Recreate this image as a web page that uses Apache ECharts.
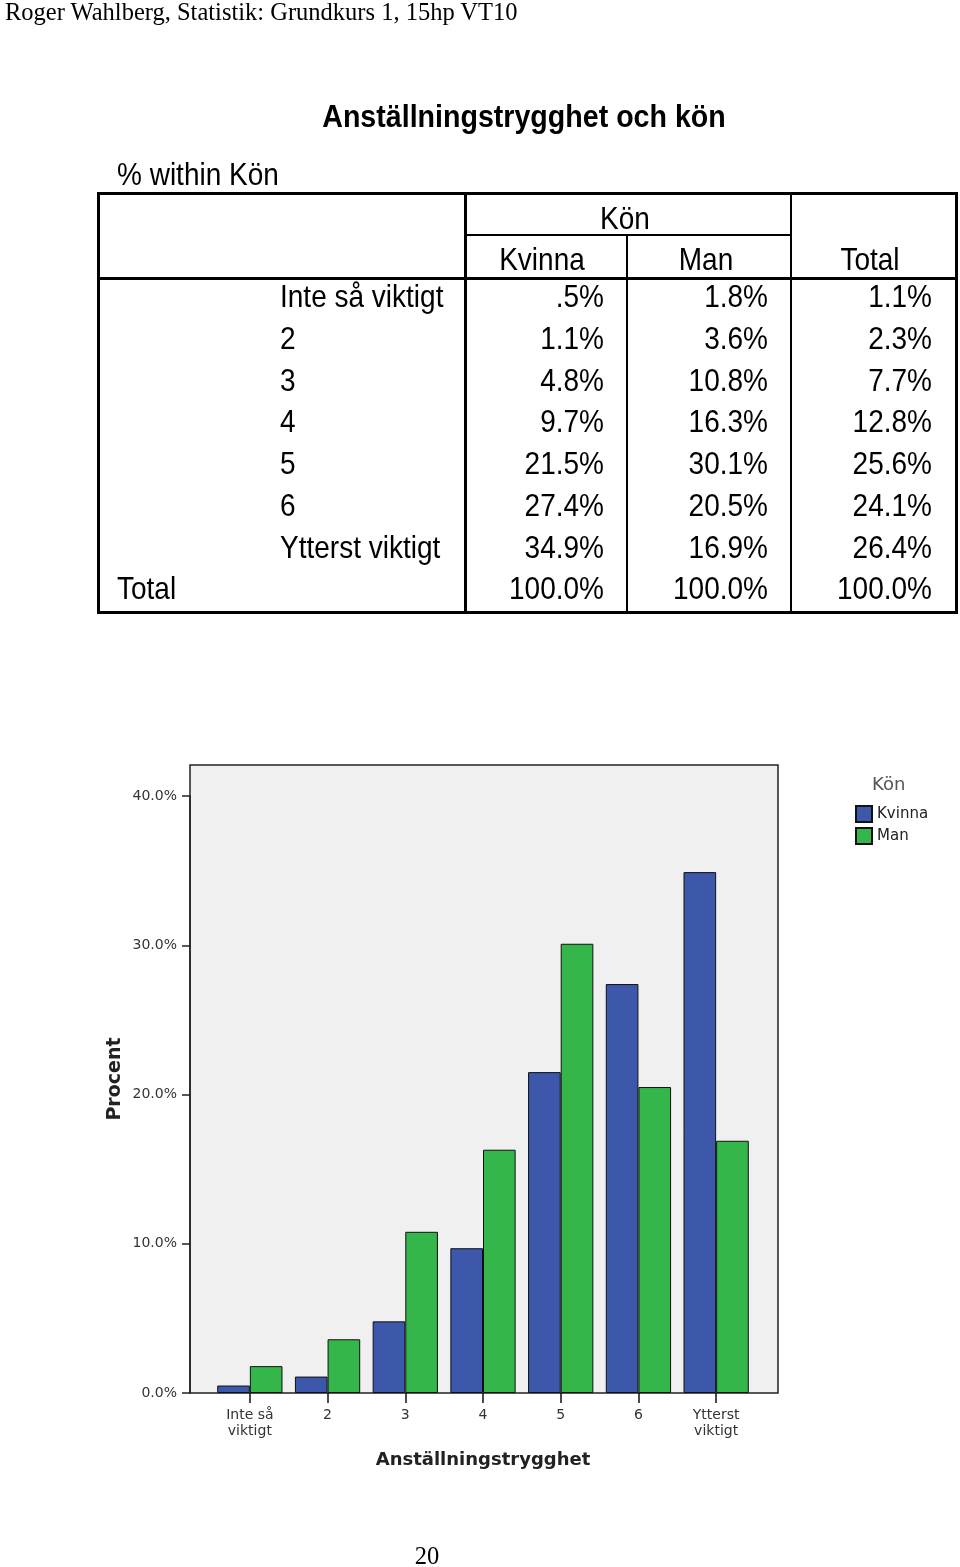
<!DOCTYPE html>
<html>
<head>
<meta charset="utf-8">
<script src="https://cdn.jsdelivr.net/npm/echarts@6/dist/echarts.min.js"></script>
<style>
  html, body { margin: 0; padding: 0; background: #fff; }
  #page { position: relative; width: 960px; height: 1567px; overflow: hidden; }
  #chart { position: absolute; left: 0; top: 0; width: 960px; height: 1567px; }
  .t { position: absolute; white-space: nowrap; color: #000; }
  .sans { font-family: "Liberation Sans", Arial, sans-serif; font-size: 28px; }
  .serif { font-family: "Liberation Serif", "Times New Roman", serif; font-size: 24.5px; }
  .ln { position: absolute; background: #000; }
</style>
</head>
<body>
<div id="page">
  <div id="chart"></div>
</div>
<script>
// ---- data ----
const rowLabels = ['Inte så viktigt', '2', '3', '4', '5', '6', 'Ytterst viktigt'];
const axisCategories = ['Inte så\nviktigt', '2', '3', '4', '5', '6', 'Ytterst\nviktigt'];
const seriesNames = ['Kvinna', 'Man'];
const kvinna = [0.5, 1.1, 4.8, 9.7, 21.5, 27.4, 34.9];
const man = [1.8, 3.6, 10.8, 16.3, 30.1, 20.5, 16.9];
const total = [1.1, 2.3, 7.7, 12.8, 25.6, 24.1, 26.4];
const columnTotals = [100.0, 100.0, 100.0];
const yTickStep = 10;
const yTickMax = 40;

// ---- html text & table ----
const page = document.getElementById('page');
function txt(x, y, s, cls, align, extra, sy) {
  const d = document.createElement('div');
  d.className = 't ' + cls;
  d.textContent = s;
  const h = 40;
  d.style.left = x + 'px';
  d.style.top = (y - h / 2) + 'px';
  d.style.lineHeight = h + 'px';
  const tx = align === 'right' ? '-100%' : (align === 'center' ? '-50%' : '0');
  d.style.transform = 'translateX(' + tx + ') scaleY(' + (sy || 1.12) + ')';
  if (extra) Object.assign(d.style, extra);
  page.appendChild(d);
  return d;
}
function line(x, y, w, h) {
  const d = document.createElement('div');
  d.className = 'ln';
  d.style.left = x + 'px'; d.style.top = y + 'px';
  d.style.width = w + 'px'; d.style.height = h + 'px';
  page.appendChild(d);
}
function fmt(v) { return v.toFixed(1).replace(/^0\./, '.') + '%'; }

txt(5, 12, 'Roger Wahlberg, Statistik: Grundkurs 1, 15hp VT10', 'serif', 'left', null, 1);
txt(427, 1556, '20', 'serif', 'center', null, 1);
txt(524, 116, 'Anställningstrygghet och kön', 'sans', 'center', { fontWeight: 'bold', fontSize: '28.6px' });
txt(117, 175, '% within Kön', 'sans', 'left');

// table lines
line(97, 192, 861, 3);   // top
line(97, 611, 861, 3);   // bottom
line(97, 192, 3, 422);   // left
line(955, 192, 3, 422);  // right
line(97, 277, 861, 3);   // header bottom
line(464, 192, 3, 422);  // label | data
line(464, 234, 327, 2);  // under Kön
line(626, 234, 2, 380);  // Kvinna | Man
line(790, 192, 2, 422);  // Man | Total

txt(625, 219, 'Kön', 'sans', 'center');
txt(542, 260, 'Kvinna', 'sans', 'center');
txt(706, 260, 'Man', 'sans', 'center');
txt(870, 260, 'Total', 'sans', 'center');

const rowY = [297, 339, 381, 422, 464, 506, 548];
rowLabels.forEach((lab, i) => {
  txt(280, rowY[i], lab, 'sans', 'left');
  txt(604, rowY[i], fmt(kvinna[i]), 'sans', 'right');
  txt(768, rowY[i], fmt(man[i]), 'sans', 'right');
  txt(932, rowY[i], fmt(total[i]), 'sans', 'right');
});
txt(117, 589, 'Total', 'sans', 'left');
txt(604, 589, fmt(columnTotals[0]), 'sans', 'right');
txt(768, 589, fmt(columnTotals[1]), 'sans', 'right');
txt(932, 589, fmt(columnTotals[2]), 'sans', 'right');

// ---- chart ----
const chart = echarts.init(document.getElementById('chart'), null, { renderer: 'canvas' });
const labelFont = 'DejaVu Sans';
// plot box: 0..yMax spans y 1393..765 ; 40% tick at y 796
const pxPerUnit = (1393 - 796) / yTickMax;
const yMax = 628 / pxPerUnit;
chart.setOption({
  animation: false,
  textStyle: { fontFamily: labelFont },
  title: {
    text: 'Kön', left: 872, top: 776, padding: 0,
    textStyle: { fontFamily: labelFont, fontSize: 18, fontWeight: 'normal', color: '#555' }
  },
  legend: {
    data: seriesNames, orient: 'vertical', left: 855, top: 805, padding: 0,
    itemWidth: 16, itemHeight: 16, itemGap: 4, icon: 'rect',
    textStyle: { fontFamily: labelFont, fontSize: 15, color: '#222', padding: [0, 0, 0, 0] }
  },
  grid: [
    { left: 190, top: 765, width: 588, height: 628, show: true,
      backgroundColor: '#f0f0f0', borderColor: '#222', borderWidth: 1.5, containLabel: false },
    { left: 211, top: 765, width: 544, height: 628, containLabel: false },
    { left: 190, top: 796, width: 588, height: 597, containLabel: false }
  ],
  xAxis: [
    { gridIndex: 0, type: 'value', min: 0, max: 1, show: false },
    { gridIndex: 1, type: 'category', data: axisCategories, boundaryGap: true,
      axisLine: { show: false },
      axisTick: { show: true, alignWithLabel: true, length: 10, lineStyle: { color: '#111', width: 1.5 } },
      axisLabel: { fontFamily: labelFont, fontSize: 14, color: '#333', lineHeight: 16, margin: 14, interval: 0 },
      name: 'Anställningstrygghet', nameLocation: 'middle', nameGap: 58,
      nameTextStyle: { fontFamily: labelFont, fontSize: 18, fontWeight: 'bold', color: '#222' }
    },
    { gridIndex: 2, type: 'value', min: 0, max: 1, show: false }
  ],
  yAxis: [
    { gridIndex: 0, type: 'value', min: 0, max: 1,
      axisLine: { show: false }, axisTick: { show: false }, axisLabel: { show: false },
      splitLine: { show: false },
      name: 'Procent', nameLocation: 'middle', nameGap: 65, nameRotate: 90,
      nameTextStyle: { fontFamily: labelFont, fontSize: 19, fontWeight: 'bold', color: '#222' }
    },
    { gridIndex: 1, type: 'value', min: 0, max: yMax, show: false, splitLine: { show: false } },
    { gridIndex: 2, type: 'value', min: 0, max: yTickMax, interval: yTickStep,
      axisLine: { show: true, lineStyle: { color: '#222', width: 1.5 } },
      axisTick: { show: true, length: 8, lineStyle: { color: '#222', width: 1.5 } },
      splitLine: { show: false },
      axisLabel: { fontFamily: labelFont, fontSize: 14, color: '#333', margin: 13,
        formatter: v => v.toFixed(1) + '%' }
    }
  ],
  series: [
    { name: seriesNames[0], type: 'bar', xAxisIndex: 1, yAxisIndex: 1, data: kvinna,
      barGap: '0%', barCategoryGap: '16%',
      itemStyle: { color: '#3d58aa', borderColor: '#111', borderWidth: 1 } },
    { name: seriesNames[1], type: 'bar', xAxisIndex: 1, yAxisIndex: 1, data: man,
      barGap: '0%', barCategoryGap: '16%',
      itemStyle: { color: '#35b64a', borderColor: '#111', borderWidth: 1 } }
  ]
});
</script>
</body>
</html>
